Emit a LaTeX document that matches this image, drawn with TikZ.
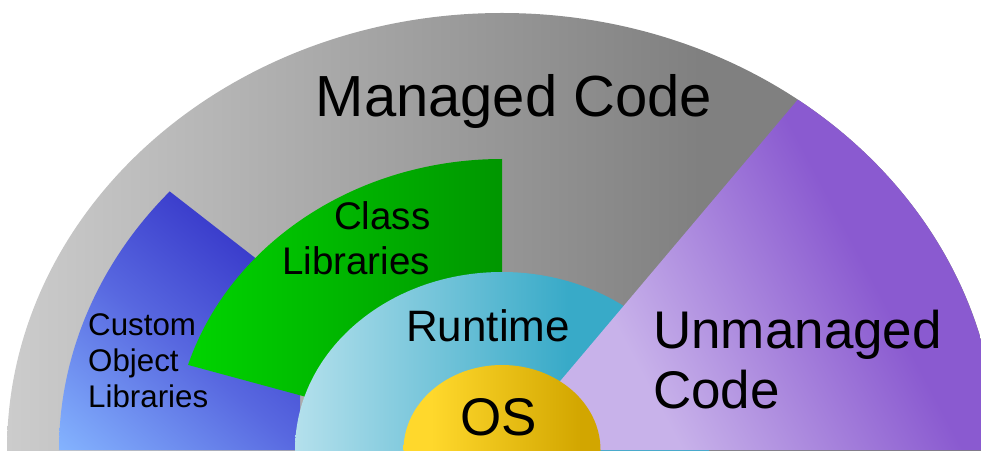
\documentclass[tikz,border=0pt]{standalone}
\usepackage{fontspec}
\setmainfont{Liberation Sans}
\definecolor{grayL}{HTML}{CCCCCC}
\definecolor{grayD}{HTML}{808080}
\definecolor{blueD}{HTML}{3535C8}
\definecolor{blueM}{HTML}{5868E0}
\definecolor{blueL}{HTML}{85B5FF}
\definecolor{greenL}{HTML}{00D400}
\definecolor{greenD}{HTML}{009600}
\definecolor{cyanL}{HTML}{B4E0EC}
\definecolor{cyanD}{HTML}{38AAC8}
\definecolor{purpleL}{HTML}{C8B2EA}
\definecolor{purpleD}{HTML}{8A5AD0}
\definecolor{osL}{HTML}{FFD82C}
\definecolor{osD}{HTML}{D2A600}
% gradients: the middle half (25bp..75bp) spans the filled shape
\pgfdeclarehorizontalshading{managedshade}{100bp}{color(0bp)=(grayL); color(25bp)=(grayL); color(60bp)=(grayD); color(100bp)=(grayD)}
\pgfdeclarehorizontalshading{runtimeshade}{100bp}{color(0bp)=(cyanL); color(25bp)=(cyanL); color(58bp)=(cyanD); color(100bp)=(cyanD)}
\pgfdeclarehorizontalshading{osshade}{100bp}{color(0bp)=(osL); color(32bp)=(osL); color(70bp)=(osD); color(100bp)=(osD)}
\pgfdeclareverticalshading{customshade}{100bp}{color(0bp)=(blueL); color(14bp)=(blueL); color(46bp)=(blueM); color(74bp)=(blueD); color(100bp)=(blueD)}
\pgfdeclareverticalshading{unmanagedshade}{100bp}{color(0bp)=(purpleL); color(34bp)=(purpleL); color(62bp)=(purpleD); color(100bp)=(purpleD)}
\begin{document}
\begin{tikzpicture}[x=1pt,y=1pt,
  lbl/.style={inner sep=0pt, text=black},
  big/.style={font=\fontsize{58}{64}\selectfont},
  mid/.style={font=\fontsize{53}{60}\selectfont},
  rt/.style={font=\fontsize{44}{50}\selectfont},
  cls/.style={font=\fontsize{38.5}{44}\selectfont},
  cust/.style={font=\fontsize{31.3}{36}\selectfont},
]
\useasboundingbox (0,0) rectangle (981,450);
\clip (0,0) rectangle (981,450);
\coordinate (C) at (502,0);

% managed code: the outer half disc
\shade[shading=managedshade] (C) ellipse [x radius=495, y radius=437];

% custom object libraries wedge, shaded over its visible part only
\begin{scope}
  \clip (C) -- ++(-443,0) arc [start angle=180, end angle=138.6, x radius=443, y radius=391] -- cycle;
  \shade[shading=customshade, shading angle=-40] (59,0) rectangle (300,258);
\end{scope}

% class libraries wedge
\shade[left color=greenL, right color=greenD]
  (C) -- ++(0,291) arc [start angle=90, end angle=163, x radius=328.3, y radius=291] -- cycle;

% runtime
\shade[shading=runtimeshade] (C) ellipse [x radius=207, y radius=178];

% unmanaged code wedge
\shade[shading=unmanagedshade, shading angle=-62]
  (C) -- ++(495,0) arc [start angle=0, end angle=53.3, x radius=495, y radius=437] -- cycle;

% operating system core
\shade[shading=osshade] (C) ellipse [x radius=98.5, y radius=85];

% labels
\node[lbl, big, anchor=base] (managed) at (514,333) {Managed Code};
\node[lbl, mid, anchor=base west] (unm1) at (653,102) {Unmanaged};
\node[lbl, mid, anchor=base west] (unm2) at (653,42) {Code};
\node[lbl, rt, anchor=base] (runtime) at (488,108.3) {Runtime};
\node[lbl, mid, anchor=base] (os) at (499,15) {OS};
\node[lbl, cls, anchor=base east] (cls1) at (430.5,220) {Class};
\node[lbl, cls, anchor=base east] (cls2) at (430,176) {Libraries};
\node[lbl, cust, anchor=base west] (cus1) at (88,115) {Custom};
\node[lbl, cust, anchor=base west] (cus2) at (88,78.3) {Object};
\node[lbl, cust, anchor=base west] (cus3) at (88,43) {Libraries};
\end{tikzpicture}
\end{document}
